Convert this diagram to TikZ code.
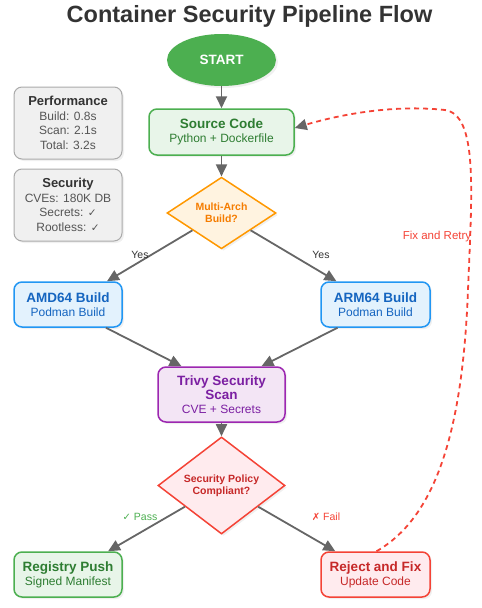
\documentclass[tikz,border=0pt]{standalone}
\usepackage{fontspec}
\setmainfont{Liberation Sans}
\newfontfamily\symf{DejaVu Sans}
\usetikzlibrary{shapes.geometric,arrows.meta,calc,shadows}
\definecolor{edgegray}{HTML}{666666}
\definecolor{gfill}{HTML}{E8F5E9}\definecolor{gline}{HTML}{4CAF50}\definecolor{gtext}{HTML}{2E7D32}
\definecolor{bfill}{HTML}{E3F2FD}\definecolor{bline}{HTML}{2196F3}\definecolor{btext}{HTML}{1565C0}
\definecolor{pfill}{HTML}{F3E5F5}\definecolor{pline}{HTML}{9C27B0}\definecolor{ptext}{HTML}{7B1FA2}
\definecolor{rfill}{HTML}{FFEBEE}\definecolor{rline}{HTML}{F44336}\definecolor{rtext}{HTML}{C62828}
\definecolor{ofill}{HTML}{FFF3E0}\definecolor{oline}{HTML}{FF9800}\definecolor{otext}{HTML}{F57C00}
\definecolor{infofill}{HTML}{F0F0F0}\definecolor{infoline}{HTML}{AAAAAA}\definecolor{infotext}{HTML}{555555}
\definecolor{titlec}{HTML}{333333}
\newcommand{\hd}[1]{{\fontsize{13.5}{15}\selectfont\bfseries #1}}
\begin{document}
\begin{tikzpicture}[x=1pt,y=-1pt,
  shadowed/.style={drop shadow={opacity=0.12,shadow xshift=2pt,shadow yshift=-2pt}},
  procbox/.style={rectangle,rounded corners=8pt,line width=1.5pt,align=center,inner sep=0pt,shadowed,font=\fontsize{12}{15.5}\selectfont},
  decbox/.style={diamond,line width=1.5pt,align=center,inner sep=0pt,shadowed,font=\fontsize{10.5}{12}\selectfont\bfseries},
  infobox/.style={rectangle,rounded corners=8pt,line width=1pt,draw=infoline,fill=infofill,align=center,inner sep=0pt,minimum width=108pt,minimum height=72pt,shadowed,text=infotext,font=\fontsize{12}{14.5}\selectfont},
  flow/.style={draw=edgegray,line width=1.8pt,-{Triangle[length=12pt,width=11pt]}},
  elabel/.style={font=\fontsize{10.5}{12}\selectfont,inner sep=1pt}
]
\useasboundingbox (0,0) rectangle (482,608);

\node[font=\fontsize{23.5}{28}\selectfont\bfseries,text=titlec] (title) at (249.5,16) {Container Security Pipeline Flow};

\node[ellipse,fill=gline,minimum width=109pt,minimum height=52pt,inner sep=0pt,shadowed,
      text=white,font=\fontsize{13.5}{16}\selectfont\bfseries] (start) at (221.5,60) {START};

\node[procbox,draw=gline,fill=gfill,text=gtext,minimum width=145pt,minimum height=46pt] (src) at (221.5,132)
  {\hd{Source Code}\\[-1.5pt]Python + Dockerfile};

\node[decbox,draw=oline,fill=ofill,text=otext,minimum width=109pt,minimum height=70pt] (arch) at (221.5,213) {Multi-Arch\\Build?};

\node[procbox,draw=bline,fill=bfill,text=btext,minimum width=108pt,minimum height=45pt] (amd) at (68,304.5)
  {\hd{AMD64 Build}\\[-1.5pt]Podman Build};
\node[procbox,draw=bline,fill=bfill,text=btext,minimum width=109pt,minimum height=45pt] (arm) at (375.5,304.5)
  {\hd{ARM64 Build}\\[-1.5pt]Podman Build};

\node[procbox,draw=pline,fill=pfill,text=ptext,minimum width=127pt,minimum height=55pt,font=\fontsize{12}{14}\selectfont] (trivy) at (221.5,394.5)
  {{\fontsize{13.5}{14}\selectfont\bfseries Trivy Security}\\{\fontsize{13.5}{14}\selectfont\bfseries Scan}\\CVE + Secrets};

\node[decbox,draw=rline,fill=rfill,text=rtext,minimum width=127pt,minimum height=63pt] (policy) at (221.5,485.5) {Security Policy\\Compliant?};

\node[procbox,draw=gline,fill=gfill,text=gtext,minimum width=108pt,minimum height=45pt] (reg) at (68,574.5)
  {\hd{Registry Push}\\[-1.5pt]Signed Manifest};
\node[procbox,draw=rline,fill=rfill,text=rtext,minimum width=109pt,minimum height=45pt] (rej) at (375.5,574.5)
  {\hd{Reject and Fix}\\[-1.5pt]Update Code};

\node[infobox] (perf) at (68,123)
  {{\fontsize{13}{14.5}\selectfont\bfseries\color{titlec}Performance}\\Build: 0.8s\\Scan: 2.1s\\Total: 3.2s};
\node[infobox] (sec) at (68,205)
  {{\fontsize{13}{14.5}\selectfont\bfseries\color{titlec}Security}\\CVEs: 180K DB\\Secrets: {\symf\fontsize{10.5}{14.5}\selectfont ✓}\\Rootless: {\symf\fontsize{10.5}{14.5}\selectfont ✓}};

% connectors
\draw[flow] (start) -- (src);
\draw[flow] (src) -- (arch);
\draw[flow] (arch) -- (amd);
\draw[flow] (arch) -- (arm);
\draw[flow] ($(amd.south)+(38,0)$) -- ($(trivy.north)+(-40,0)$);
\draw[flow] ($(arm.south)+(-38,0)$) -- ($(trivy.north)+(40,0)$);
\draw[flow] (trivy) -- (policy);
\draw[flow] (policy) -- (reg);
\draw[flow] (policy) -- (rej);

\node[elabel,text=titlec] (yes1) at (140,255) {Yes};
\node[elabel,text=titlec] (yes2) at (321,255) {Yes};
\node[elabel,text=gline] (pass) at (140,517) {{\symf\fontsize{10}{12}\selectfont ✓} Pass};
\node[elabel,text=rline] (fail) at (326,517) {{\symf\fontsize{10}{12}\selectfont ✗} Fail};

% retry loop
\coordinate (loopstart) at ($(rej.north)+(1,0)$);
\coordinate (loopend) at ($(src.east)+(0,-4)$);
\draw[draw=rline,line width=1.8pt,dash pattern=on 5pt off 4pt,
      -{Triangle[length=12pt,width=11pt,color=edgegray]}]
  (loopstart) .. controls (440,515) and (463,420) .. (468,290)
  .. controls (472,190) and (478,115) .. (445,110)
  .. controls (390,104) and (335,116) .. (loopend);
\node[elabel,text=rline,font=\fontsize{11.5}{13}\selectfont] (fixlbl) at (437,237) {Fix and Retry};
\end{tikzpicture}
\end{document}
